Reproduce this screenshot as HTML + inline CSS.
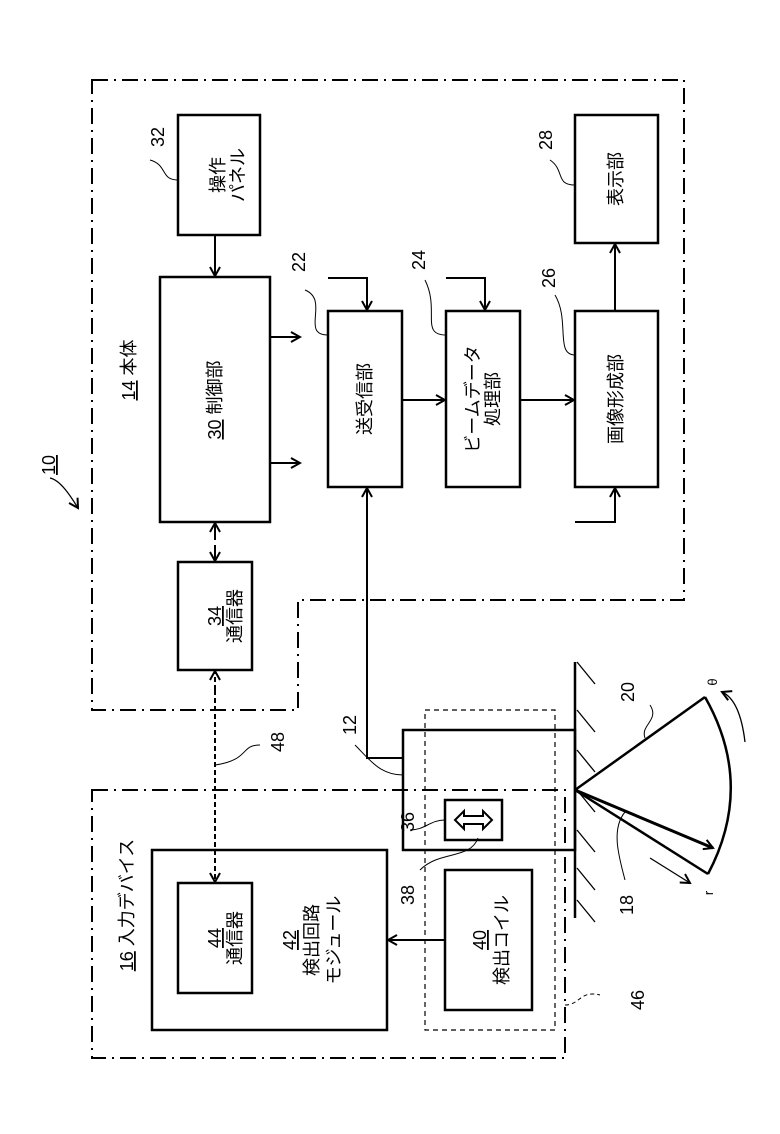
<!DOCTYPE html>
<html><head><meta charset="utf-8"><style>
html,body{margin:0;padding:0;background:#fff;}
svg{display:block;}
text{font-family:"Liberation Sans","Noto Sans CJK JP",sans-serif;fill:#000;}
</style></head><body>
<svg width="780" height="1134" viewBox="0 0 780 1134" xmlns="http://www.w3.org/2000/svg">
<defs>
<marker id="a" markerWidth="12" markerHeight="12" refX="10" refY="6" orient="auto" markerUnits="userSpaceOnUse">
<path d="M1,1 L10,6 L1,11" fill="none" stroke="#000" stroke-width="2"/>
</marker>
</defs>
<g fill="none" stroke="#000" stroke-width="2">
<path d="M92,80 H684 V600 H298 V710 H92 Z" stroke-dasharray="16,6,2,6"/>
<path d="M92,790 H565 V1058 H92 Z" stroke-dasharray="16,6,2,6"/>
<rect x="425" y="710" width="130" height="320" stroke-width="1.2" stroke-dasharray="5,4"/>
<g stroke-width="2.5">
<rect x="178" y="115" width="82" height="120"/>
<rect x="160" y="277" width="110" height="245"/>
<rect x="178" y="562" width="74" height="108"/>
<rect x="328" y="311" width="74" height="176"/>
<rect x="446" y="311" width="74" height="176"/>
<rect x="575" y="311" width="83" height="176"/>
<rect x="575" y="115" width="83" height="128"/>
<rect x="403" y="730" width="172" height="120"/>
<rect x="445" y="800" width="57" height="40"/>
<rect x="152" y="850" width="235" height="180"/>
<rect x="178" y="883" width="74" height="110"/>
<rect x="445" y="870" width="87" height="140"/>
</g>
<line x1="215" y1="235" x2="215" y2="276" marker-end="url(#a)"/>
<line x1="270" y1="337" x2="300" y2="337" marker-end="url(#a)"/>
<line x1="270" y1="463" x2="300" y2="463" marker-end="url(#a)"/>
<path d="M328,278 H367 V310" marker-end="url(#a)"/>
<path d="M446,278 H485 V310" marker-end="url(#a)"/>
<line x1="402" y1="400" x2="445" y2="400" marker-end="url(#a)"/>
<line x1="520" y1="400" x2="574" y2="400" marker-end="url(#a)"/>
<line x1="615" y1="311" x2="615" y2="244" marker-end="url(#a)"/>
<path d="M575,522 H615 V488" marker-end="url(#a)"/>
<path d="M403,758 H367 V488" marker-end="url(#a)"/>
<line x1="215" y1="540" x2="215" y2="523" marker-end="url(#a)"/>
<line x1="215" y1="545" x2="215" y2="561" marker-end="url(#a)"/>
<line x1="215" y1="690" x2="215" y2="671" stroke-dasharray="5,3" marker-end="url(#a)"/>
<line x1="215" y1="690" x2="215" y2="882" stroke-dasharray="5,3" marker-end="url(#a)"/>
<line x1="445" y1="940" x2="388" y2="940" marker-end="url(#a)"/>
<path d="M455,820 L464,811 V816 H483 V811 L492,820 L483,829 V824 H464 V829 Z" stroke-width="2"/>
<line x1="575" y1="662" x2="575" y2="918" stroke-width="2.5"/>
<g stroke-width="1.3">
<path d="M577,662 l18,22 M577,710 l18,22 M577,750 l18,22 M577,790 l18,22 M577,830 l18,22 M577,868 l18,22 M577,900 l18,22"/>
</g>
<line x1="575" y1="790" x2="705" y2="697" stroke-width="2.5"/>
<line x1="575" y1="790" x2="708" y2="874" stroke-width="2.5"/>
<path d="M705,697 Q755,785 708,874" stroke-width="2.5"/>
<line x1="575" y1="790" x2="713" y2="848" stroke-width="3" marker-end="url(#a)"/>
<line x1="650" y1="858" x2="690" y2="883" stroke-width="1.3" marker-end="url(#a)"/>
<path d="M745,742 Q740,700 722,692" stroke-width="1.3" marker-end="url(#a)"/>
<g stroke-width="1">
<path d="M178,180 C160,180 168,165 150,160"/>
<path d="M328,335 C300,335 330,300 305,290"/>
<path d="M446,335 C420,335 440,310 425,280"/>
<path d="M575,355 C555,355 570,320 555,295"/>
<path d="M575,185 C555,185 565,170 550,160"/>
<path d="M403,775 C380,775 370,760 355,745"/>
<path d="M445,820 C430,820 425,830 410,830"/>
<path d="M478,838 C470,860 440,850 420,870"/>
<path d="M215,765 C250,760 240,745 260,745"/>
<path d="M645,738 C640,725 660,720 650,705"/>
<path d="M625,812 C610,830 620,860 625,880"/>
<path d="M565,1005 C580,1005 580,990 600,995" stroke-dasharray="4,3"/>
<path d="M50,478 C60,480 70,495 78,508" stroke-width="1.3" marker-end="url(#a)"/>
</g>
</g>
<g font-size="18">
<text transform="translate(224,175) rotate(-90)" text-anchor="middle">操作</text>
<text transform="translate(244,175) rotate(-90)" text-anchor="middle">パネル</text>
<text transform="translate(221,400) rotate(-90)" text-anchor="middle"><tspan text-decoration="underline">30</tspan> 制御部</text>
<text transform="translate(221,616) rotate(-90)" text-anchor="middle" text-decoration="underline">34</text>
<text transform="translate(241,616) rotate(-90)" text-anchor="middle">通信器</text>
<text transform="translate(371,399) rotate(-90)" text-anchor="middle">送受信部</text>
<text transform="translate(479,399) rotate(-90)" text-anchor="middle">ビームデータ</text>
<text transform="translate(499,399) rotate(-90)" text-anchor="middle">処理部</text>
<text transform="translate(622,399) rotate(-90)" text-anchor="middle">画像形成部</text>
<text transform="translate(622,179) rotate(-90)" text-anchor="middle">表示部</text>
<text transform="translate(135,370) rotate(-90)" text-anchor="middle"><tspan text-decoration="underline">14</tspan>  本体</text>
<text transform="translate(133,905) rotate(-90)" text-anchor="middle"><tspan text-decoration="underline">16</tspan>  入力デバイス</text>
<text transform="translate(221,938) rotate(-90)" text-anchor="middle" text-decoration="underline">44</text>
<text transform="translate(241,938) rotate(-90)" text-anchor="middle">通信器</text>
<text transform="translate(296,940) rotate(-90)" text-anchor="middle" text-decoration="underline">42</text>
<text transform="translate(318,940) rotate(-90)" text-anchor="middle">検出回路</text>
<text transform="translate(340,940) rotate(-90)" text-anchor="middle">モジュール</text>
<text transform="translate(486,940) rotate(-90)" text-anchor="middle" text-decoration="underline">40</text>
<text transform="translate(508,940) rotate(-90)" text-anchor="middle">検出コイル</text>
<text transform="translate(164,137) rotate(-90)" text-anchor="middle">32</text>
<text transform="translate(305,262) rotate(-90)" text-anchor="middle">22</text>
<text transform="translate(425,260) rotate(-90)" text-anchor="middle">24</text>
<text transform="translate(555,278) rotate(-90)" text-anchor="middle">26</text>
<text transform="translate(552,140) rotate(-90)" text-anchor="middle">28</text>
<text transform="translate(55,465) rotate(-90)" text-anchor="middle" text-decoration="underline">10</text>
<text transform="translate(356,725) rotate(-90)" text-anchor="middle">12</text>
<text transform="translate(284,742) rotate(-90)" text-anchor="middle">48</text>
<text transform="translate(414,822) rotate(-90)" text-anchor="middle">36</text>
<text transform="translate(414,895) rotate(-90)" text-anchor="middle">38</text>
<text transform="translate(634,692) rotate(-90)" text-anchor="middle">20</text>
<text transform="translate(633,905) rotate(-90)" text-anchor="middle">18</text>
<text transform="translate(644,1000) rotate(-90)" text-anchor="middle">46</text>
<text transform="translate(717,682) rotate(-90)" text-anchor="middle" font-size="13">θ</text>
<text transform="translate(713,893) rotate(-90)" text-anchor="middle" font-size="13">r</text>
</g>
</svg>
</body></html>
